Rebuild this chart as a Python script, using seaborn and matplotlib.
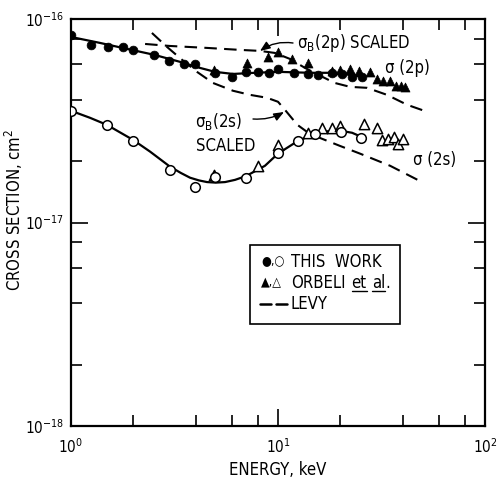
import numpy as np
import pandas as pd
import matplotlib
matplotlib.use("Agg")
import matplotlib.pyplot as plt
from matplotlib.ticker import LogLocator, NullFormatter, FixedLocator, LogFormatterSciNotation
import seaborn as sns

# ---------------- data ----------------
# sigma(2p), this work (filled circles)
e_2p_this = [1.0, 1.25, 1.51, 1.78, 1.99, 2.52, 2.97, 3.52, 3.97, 4.96, 6.0, 7.0, 8.0, 9.05,
             10.0, 11.9, 14.0, 15.6, 18.2, 20.4, 22.8, 25.5]
s_2p_this = [8.35e-17, 7.46e-17, 7.29e-17, 7.29e-17, 7.05e-17, 6.67e-17, 6.23e-17, 6.02e-17,
             6.02e-17, 5.44e-17, 5.2e-17, 5.5e-17, 5.5e-17, 5.44e-17, 5.69e-17, 5.44e-17,
             5.38e-17, 5.32e-17, 5.44e-17, 5.38e-17, 5.2e-17, 5.2e-17]

# sigma(2p), Orbeli et al. (filled triangles)
e_2p_orb = [4.91, 7.08, 8.95, 10.0, 11.7, 14.0, 18.2, 19.9, 22.3, 24.6, 27.8, 30.1, 32.2,
            34.8, 37.2, 39.3, 41.1]
s_2p_orb = [5.62e-17, 6.09e-17, 6.51e-17, 6.89e-17, 6.37e-17, 6.09e-17, 5.56e-17, 5.62e-17,
            5.69e-17, 5.56e-17, 5.5e-17, 5.08e-17, 4.97e-17, 4.97e-17, 4.7e-17, 4.7e-17,
            4.64e-17]

# sigma(2s), this work (open circles)
e_2s_this = [1.0, 1.49, 1.99, 3.01, 3.97, 4.96, 7.0, 10.0, 12.5, 15.1, 20.2, 25.2]
s_2s_this = [3.54e-17, 3.02e-17, 2.52e-17, 1.82e-17, 1.5e-17, 1.68e-17, 1.66e-17, 2.2e-17,
             2.52e-17, 2.73e-17, 2.79e-17, 2.61e-17]

# sigma(2s), Orbeli et al. (open triangles)
e_2s_orb = [4.91, 8.0, 10.0, 14.0, 16.3, 18.2, 19.9, 26.0, 30.1, 31.8, 34.0, 36.3, 38.0, 40.2]
s_2s_orb = [1.72e-17, 1.9e-17, 2.41e-17, 2.76e-17, 2.92e-17, 2.92e-17, 2.99e-17, 3.06e-17,
            2.92e-17, 2.55e-17, 2.58e-17, 2.64e-17, 2.44e-17, 2.58e-17]

# solid fitted curves (this work)
e_fit_2p = [1.0, 1.38, 1.865, 2.52, 3.36, 4.2, 4.96, 6.06, 7.74, 10.0, 14.3, 18.4, 22.3, 25.7]
s_fit_2p = [8.16e-17, 7.63e-17, 7.13e-17, 6.67e-17, 6.16e-17, 5.75e-17, 5.5e-17, 5.37e-17,
            5.44e-17, 5.5e-17, 5.44e-17, 5.44e-17, 5.31e-17, 5.2e-17]
e_fit_2s = [1.0, 1.235, 1.49, 1.99, 2.41, 3.01, 3.4, 3.76, 4.15, 4.54, 5.0, 5.55, 6.2, 7.0,
            8.65, 10.0, 12.5, 15.1, 17.8, 20.2, 22.8, 25.2]
s_fit_2s = [3.54e-17, 3.27e-17, 3.02e-17, 2.55e-17, 2.23e-17, 1.88e-17, 1.75e-17, 1.66e-17,
            1.61e-17, 1.58e-17, 1.57e-17, 1.58e-17, 1.62e-17, 1.69e-17, 1.9e-17, 2.18e-17,
            2.52e-17, 2.73e-17, 2.82e-17, 2.82e-17, 2.76e-17, 2.64e-17]

# Levy, sigma_B scaled (dashed)
e_levy_2p = [2.28, 3.01, 4.54, 6.55, 8.19, 9.67, 11.4, 13.5, 16.0, 18.8, 22.3, 26.9, 33.6,
             42.0, 52.5]
s_levy_2p = [7.54e-17, 7.37e-17, 7.21e-17, 7.05e-17, 6.97e-17, 6.81e-17, 6.37e-17, 5.75e-17,
             5.26e-17, 4.85e-17, 4.64e-17, 4.59e-17, 4.24e-17, 3.79e-17, 3.5e-17]
e_levy_2s = [2.46, 2.91, 3.44, 4.06, 4.85, 6.06, 7.32, 8.85, 10.0, 10.8, 12.4, 14.0, 15.4,
             19.9, 24.9, 34.8, 50.2]
s_levy_2s = [8.54e-17, 7.29e-17, 6.3e-17, 5.5e-17, 4.85e-17, 4.44e-17, 4.24e-17, 4.1e-17,
             3.92e-17, 3.58e-17, 3.02e-17, 2.76e-17, 2.64e-17, 2.38e-17, 2.18e-17, 1.9e-17,
             1.57e-17]

x_ticks = [1, 10, 100]
y_ticks = [1e-18, 1e-17, 1e-16]

# ---------------- style ----------------
sns.set_theme(style="ticks")
plt.rcParams["font.family"] = ["DejaVu Sans"]
plt.rcParams["font.stretch"] = "condensed"
plt.rcParams["mathtext.fontset"] = "custom"
plt.rcParams["mathtext.rm"] = "DejaVu Sans:stretch=condensed"
plt.rcParams["mathtext.it"] = "DejaVu Sans:stretch=condensed"
plt.rcParams["mathtext.bf"] = "DejaVu Sans:bold:stretch=condensed"

W, H = 497, 479
fig = plt.figure(figsize=(W / 100, H / 100), dpi=100)
L, R, T, B = 71, 485, 19, 426
ax = fig.add_axes([L / W, 1 - B / H, (R - L) / W, (B - T) / H])
ax.set_xscale("log")
ax.set_yscale("log")

df = lambda e, s: pd.DataFrame({"E": e, "sigma": s})

# curves
sns.lineplot(data=df(e_fit_2p, s_fit_2p), x="E", y="sigma", sort=False, ax=ax,
             color="black", lw=1.6)
sns.lineplot(data=df(e_fit_2s, s_fit_2s), x="E", y="sigma", sort=False, ax=ax,
             color="black", lw=1.6)
for e, s in [(e_levy_2p, s_levy_2p), (e_levy_2s, s_levy_2s)]:
    sns.lineplot(data=df(e, s), x="E", y="sigma", sort=False, ax=ax, color="black",
                 lw=1.5, dashes=False, linestyle=(0, (6, 3.5)))

# markers
sns.scatterplot(data=df(e_2p_orb, s_2p_orb), x="E", y="sigma", ax=ax, marker="^",
                s=42, color="black", edgecolor="black", linewidth=0.5, zorder=4)
sns.scatterplot(data=df(e_2p_this, s_2p_this), x="E", y="sigma", ax=ax, marker="o",
                s=40, color="black", edgecolor="black", linewidth=0.5, zorder=5)
sns.scatterplot(data=df(e_2s_orb, s_2s_orb), x="E", y="sigma", ax=ax, marker="^",
                s=55, facecolor="white", edgecolor="black", linewidth=1.1, zorder=4)
sns.scatterplot(data=df(e_2s_this, s_2s_this), x="E", y="sigma", ax=ax, marker="o",
                s=48, facecolor="white", edgecolor="black", linewidth=1.1, zorder=5)

# axes
ax.set_xlim(1, 100)
ax.set_ylim(1e-18, 1e-16)
ax.xaxis.set_major_locator(FixedLocator(x_ticks))
ax.yaxis.set_major_locator(FixedLocator(y_ticks))
for a in (ax.xaxis, ax.yaxis):
    a.set_major_formatter(LogFormatterSciNotation())
    a.set_minor_locator(LogLocator(base=10, subs=(2, 4, 6, 8), numticks=10))
    a.set_minor_formatter(NullFormatter())
ax.tick_params(which="both", direction="in", top=True, right=True, color="black",
               width=1.2, labelsize=11, labelcolor="black")
ax.tick_params(which="major", length=12)
ax.tick_params(axis="x", which="major", pad=8)
ax.tick_params(axis="y", which="major", pad=5)
ax.tick_params(which="minor", length=8)
for sp in ax.spines.values():
    sp.set_linewidth(1.6)
    sp.set_color("black")
ax.set_xlabel("ENERGY, keV", fontsize=12, color="black")
ax.xaxis.set_label_coords(0.5, -0.085)
ax.set_ylabel("CROSS SECTION, cm$^2$", fontsize=12, color="black")
ax.yaxis.set_label_coords(-0.11, 0.53)
ax.grid(False)


def axf(px, py):
    return ((px - L) / (R - L), (B - py) / (B - T))


tk = dict(transform=ax.transAxes, fontsize=12, color="black", va="center", ha="left")
ax.text(*axf(297, 43), r"σ$_\mathrm{B}$(2p) SCALED", **tk)
ax.text(*axf(385, 68), "σ (2p)", **tk)
ax.text(*axf(195, 121), r"σ$_\mathrm{B}$(2s)", **tk)
ax.text(*axf(196, 146), "SCALED", **tk)
ax.text(*axf(413, 160), "σ (2s)", **tk)

arrow = dict(arrowstyle="-|>,head_length=0.5,head_width=0.2", color="black", lw=1.0,
             shrinkA=0, shrinkB=0)
ax.annotate("", xy=axf(260, 51), xytext=axf(293, 43), xycoords="axes fraction",
            textcoords="axes fraction",
            arrowprops=dict(connectionstyle="arc3,rad=0.2", **arrow))
ax.annotate("", xy=axf(284, 112), xytext=axf(253, 119), xycoords="axes fraction",
            textcoords="axes fraction",
            arrowprops=dict(connectionstyle="arc3,rad=0.15", **arrow))

# legend box
x0, y0 = axf(250, 324)
x1, y1 = axf(400, 245)
ax.add_patch(plt.Rectangle((x0, y0), x1 - x0, y1 - y0, transform=ax.transAxes,
                           fill=False, edgecolor="black", lw=1.2, zorder=6))
lk = dict(transform=ax.transAxes, fontsize=12, color="black", va="center", ha="left")
sk = dict(transform=ax.transAxes, fontsize=9, color="black", va="center", ha="left")
ax.text(*axf(261, 262), "●,○", **sk)
ax.text(*axf(291, 262), "THIS  WORK", **lk)
ax.text(*axf(261, 283), "▲,△", **sk)
for xa, xb in [(260, 271), (276, 287)]:
    ax.plot([axf(xa, 0)[0], axf(xb, 0)[0]], [axf(0, 304)[1]] * 2, transform=ax.transAxes,
            color="black", lw=1.8)
ax.text(*axf(291, 304), "LEVY", **lk)

# "ORBELI et al." with underlined et / al, placed piece by piece
fig.canvas.draw()
rend = fig.canvas.get_renderer()
inv = ax.transAxes.inverted()
xcur = axf(291, 283)[0]
yrow = axf(0, 283)[1]
yline = axf(0, 291)[1]
for piece, under, gap in [("ORBELI", False, 6), ("et", True, 5), ("al", True, 0), (".", False, 0)]:
    t = ax.text(xcur, yrow, piece, **lk)
    bb = t.get_window_extent(renderer=rend)
    (bx0, _), (bx1, _) = inv.transform([[bb.x0, bb.y0], [bb.x1, bb.y1]])
    if under:
        ax.plot([bx0, bx1], [yline, yline], transform=ax.transAxes, color="black", lw=1.0)
    xcur = bx1 + gap / (R - L)

fig.savefig("out.png", dpi=100)
